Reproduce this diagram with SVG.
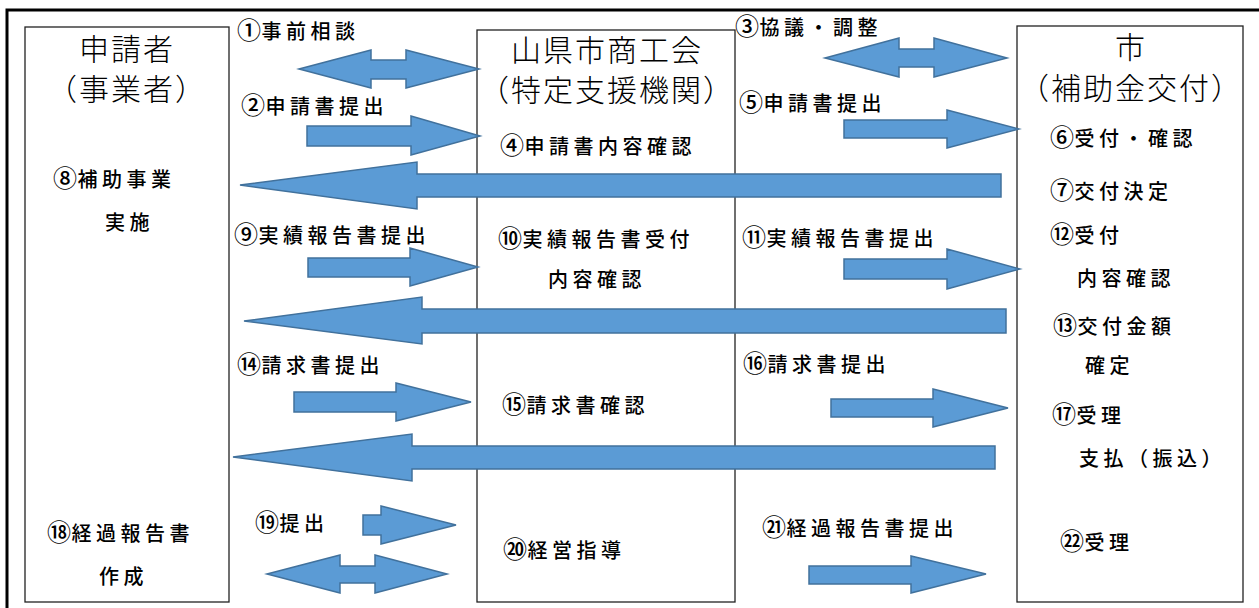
<svg xmlns="http://www.w3.org/2000/svg" width="1259" height="608" viewBox="0 0 1259 608">
<style>
.frame{fill:none;stroke:#000;stroke-width:3}
.box{fill:#fff;stroke:#222;stroke-width:1.3}
.arr{fill:#5B9BD5;stroke:#41719C;stroke-width:1.5;stroke-linejoin:miter}
.title{font-family:"Noto Sans CJK JP","Noto Sans CJK SC",sans-serif;font-size:30px;font-weight:300;fill:#000;text-anchor:middle;letter-spacing:2px}
.lbl{font-family:"Noto Sans CJK JP","Noto Sans CJK SC",sans-serif;font-size:20px;font-weight:500;fill:#000;letter-spacing:4.5px}
.n{font-size:24px;letter-spacing:0.5px}
</style>
<rect width="1259" height="608" fill="#fff"/>
<rect class="frame" x="7" y="10" width="1270" height="620"/>
<g id="node-applicant">
<rect class="box" x="25" y="27" width="204" height="575"/>
<text class="title" x="127" y="60">申請者</text>
<text class="title" x="127" y="100">（事業者）</text>
<text class="lbl" x="53" y="187"><tspan class="n">⑧</tspan>補助事業</text>
<text class="lbl" x="105" y="230">実施</text>
<text class="lbl" x="47" y="541"><tspan class="n">⑱</tspan>経過報告書</text>
<text class="lbl" x="99" y="584">作成</text>
</g>
<g id="node-chamber">
<rect class="box" x="477" y="30" width="258" height="572"/>
<text class="title" x="607" y="61">山県市商工会</text>
<text class="title" x="607" y="101">（特定支援機関）</text>
<text class="lbl" x="500" y="154"><tspan class="n">④</tspan>申請書内容確認</text>
<text class="lbl" x="498" y="247"><tspan class="n">⑩</tspan>実績報告書受付</text>
<text class="lbl" x="548" y="287">内容確認</text>
<text class="lbl" x="502" y="413"><tspan class="n">⑮</tspan>請求書確認</text>
<text class="lbl" x="503" y="558"><tspan class="n">⑳</tspan>経営指導</text>
</g>
<g id="node-city">
<rect class="box" x="1017" y="26" width="226" height="576"/>
<text class="title" x="1131" y="58">市</text>
<text class="title" x="1131" y="99">（補助金交付）</text>
<text class="lbl" x="1050" y="146"><tspan class="n">⑥</tspan>受付・確認</text>
<text class="lbl" x="1050" y="199"><tspan class="n">⑦</tspan>交付決定</text>
<text class="lbl" x="1050" y="243"><tspan class="n">⑫</tspan>受付</text>
<text class="lbl" x="1077" y="286">内容確認</text>
<text class="lbl" x="1053" y="334"><tspan class="n">⑬</tspan>交付金額</text>
<text class="lbl" x="1085" y="373">確定</text>
<text class="lbl" x="1052" y="423"><tspan class="n">⑰</tspan>受理</text>
<text class="lbl" x="1079" y="466">支払（振込）</text>
<text class="lbl" x="1060" y="550"><tspan class="n">㉒</tspan>受理</text>
</g>
<g id="connectors">
<path class="arr" d="M299,69 L371,50 L371,60 L406,60 L406,50 L479,69 L406,88 L406,79 L371,79 L371,88 Z"/>
<path class="arr" d="M307,126 L411,126 L411,116 L480,136 L411,155 L411,146 L307,146 Z"/>
<path class="arr" d="M825,58 L899,38 L899,49 L934,49 L934,38 L1007,58 L934,77 L934,67 L899,67 L899,77 Z"/>
<path class="arr" d="M844,120 L947,120 L947,110 L1019,129 L947,148 L947,138 L844,138 Z"/>
<path class="arr" d="M240,185 L417,162 L417,174 L1001,174 L1001,197 L417,197 L417,209 Z"/>
<path class="arr" d="M308,258 L410,258 L410,248 L478,267 L410,286 L410,277 L308,277 Z"/>
<path class="arr" d="M844,259 L947,259 L947,249 L1020,269 L947,289 L947,279 L844,279 Z"/>
<path class="arr" d="M244,321 L422,297 L422,309 L1006,309 L1006,333 L422,333 L422,344 Z"/>
<path class="arr" d="M294,392 L396,392 L396,383 L471,402 L396,421 L396,412 L294,412 Z"/>
<path class="arr" d="M831,399 L933,399 L933,389 L1008,408 L933,427 L933,417 L831,417 Z"/>
<path class="arr" d="M233,457 L412,434 L412,446 L995,446 L995,469 L412,469 L412,481 Z"/>
<path class="arr" d="M363,515 L381,515 L381,506 L456,525 L381,544 L381,535 L363,535 Z"/>
<path class="arr" d="M267,574 L340,555 L340,566 L375,566 L375,555 L447,574 L375,593 L375,583 L340,583 L340,593 Z"/>
<path class="arr" d="M809,566 L911,566 L911,556 L986,574 L911,593 L911,584 L809,584 Z"/>
</g>
<g id="labels">
<text class="lbl" x="237" y="39"><tspan class="n">①</tspan>事前相談</text>
<text class="lbl" x="241" y="114"><tspan class="n">②</tspan>申請書提出</text>
<text class="lbl" x="735" y="35"><tspan class="n">③</tspan>協議・調整</text>
<text class="lbl" x="739" y="111"><tspan class="n">⑤</tspan>申請書提出</text>
<text class="lbl" x="234" y="243"><tspan class="n">⑨</tspan>実績報告書提出</text>
<text class="lbl" x="742" y="246"><tspan class="n">⑪</tspan>実績報告書提出</text>
<text class="lbl" x="237" y="373"><tspan class="n">⑭</tspan>請求書提出</text>
<text class="lbl" x="743" y="372"><tspan class="n">⑯</tspan>請求書提出</text>
<text class="lbl" x="255" y="531"><tspan class="n">⑲</tspan>提出</text>
<text class="lbl" x="762" y="536"><tspan class="n">㉑</tspan>経過報告書提出</text>
</g>
</svg>
